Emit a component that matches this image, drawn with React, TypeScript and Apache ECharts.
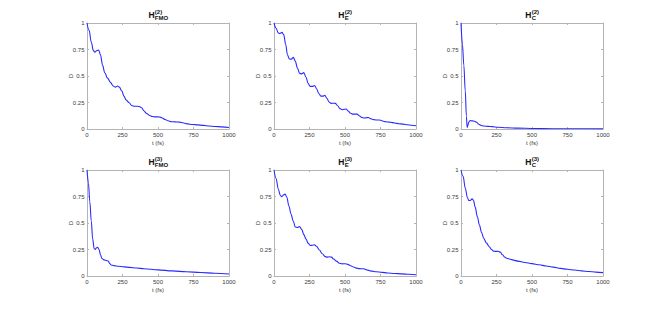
import React, { useEffect, useRef } from "react";
import * as echarts from "echarts";

// ---- data (t in fs, D) ----
const fmo2T = [0, 15, 30, 45, 55, 70, 82, 95, 110, 125, 145, 165, 185, 200, 215, 228, 245, 260, 275, 295, 315, 335, 355, 372, 385, 400, 420, 440, 460, 480, 500, 515, 530, 550, 570, 595, 620, 650, 680, 710, 740, 780, 820, 860, 900, 950, 1000];
const fmo2D = [1, 0.93, 0.82, 0.74, 0.725, 0.74, 0.745, 0.7, 0.6, 0.53, 0.48, 0.44, 0.405, 0.395, 0.405, 0.395, 0.36, 0.31, 0.275, 0.25, 0.222, 0.214, 0.214, 0.21, 0.2, 0.172, 0.146, 0.128, 0.118, 0.114, 0.114, 0.112, 0.104, 0.09, 0.078, 0.069, 0.067, 0.065, 0.057, 0.048, 0.043, 0.039, 0.034, 0.028, 0.024, 0.02, 0.014];

const e2T = [0, 15, 30, 42, 56, 68, 82, 95, 108, 120, 136, 150, 165, 180, 195, 210, 225, 240, 255, 270, 286, 300, 315, 330, 345, 358, 372, 388, 402, 418, 432, 448, 465, 480, 495, 508, 522, 540, 555, 570, 585, 600, 618, 635, 650, 665, 680, 700, 720, 740, 760, 780, 800, 820, 850, 880, 910, 940, 970, 1000];
const e2D = [1, 0.95, 0.905, 0.9, 0.912, 0.89, 0.8, 0.7, 0.66, 0.658, 0.676, 0.64, 0.575, 0.525, 0.52, 0.532, 0.49, 0.43, 0.402, 0.402, 0.41, 0.38, 0.335, 0.31, 0.31, 0.318, 0.29, 0.255, 0.242, 0.243, 0.242, 0.22, 0.192, 0.182, 0.186, 0.188, 0.17, 0.148, 0.14, 0.14, 0.14, 0.125, 0.11, 0.104, 0.106, 0.108, 0.098, 0.088, 0.085, 0.085, 0.078, 0.07, 0.066, 0.064, 0.056, 0.05, 0.046, 0.04, 0.035, 0.03];

const c2T = [0, 10, 20, 30, 38, 43, 48, 55, 65, 80, 95, 110, 125, 140, 160, 190, 220, 260, 320, 400, 500, 650, 800, 1000];
const c2D = [1, 0.8, 0.6, 0.36, 0.12, 0.015, 0.03, 0.065, 0.08, 0.077, 0.073, 0.064, 0.045, 0.035, 0.028, 0.025, 0.022, 0.016, 0.012, 0.008, 0.005, 0.003, 0.002, 0.001];

const fmo3T = [0, 10, 20, 30, 40, 50, 58, 66, 75, 85, 95, 105, 120, 140, 150, 160, 170, 190, 220, 260, 300, 350, 400, 500, 600, 700, 800, 900, 1000];
const fmo3D = [1, 0.88, 0.7, 0.52, 0.35, 0.26, 0.25, 0.265, 0.27, 0.25, 0.2, 0.165, 0.152, 0.145, 0.14, 0.118, 0.104, 0.098, 0.092, 0.086, 0.081, 0.075, 0.069, 0.058, 0.048, 0.04, 0.033, 0.026, 0.019];

const e3T = [0, 15, 30, 45, 55, 68, 78, 90, 105, 120, 135, 150, 165, 180, 195, 210, 225, 240, 255, 270, 285, 300, 320, 340, 360, 375, 390, 405, 420, 440, 460, 480, 500, 520, 540, 560, 580, 600, 630, 660, 690, 720, 760, 800, 850, 900, 950, 1000];
const e3D = [1, 0.92, 0.82, 0.76, 0.748, 0.765, 0.772, 0.745, 0.66, 0.585, 0.52, 0.462, 0.458, 0.466, 0.44, 0.39, 0.35, 0.31, 0.288, 0.29, 0.295, 0.28, 0.245, 0.21, 0.183, 0.178, 0.181, 0.178, 0.16, 0.14, 0.12, 0.114, 0.116, 0.11, 0.097, 0.085, 0.074, 0.07, 0.068, 0.055, 0.046, 0.04, 0.034, 0.029, 0.024, 0.02, 0.016, 0.012];

const c3T = [0, 15, 30, 45, 55, 65, 78, 88, 100, 115, 130, 145, 160, 180, 200, 215, 230, 245, 262, 277, 292, 308, 320, 340, 370, 400, 450, 500, 550, 600, 650, 700, 750, 800, 850, 900, 950, 1000];
const c3D = [1, 0.94, 0.83, 0.74, 0.712, 0.712, 0.728, 0.715, 0.65, 0.56, 0.48, 0.41, 0.355, 0.31, 0.275, 0.25, 0.235, 0.232, 0.233, 0.225, 0.2, 0.178, 0.168, 0.16, 0.15, 0.14, 0.128, 0.117, 0.106, 0.094, 0.084, 0.072, 0.063, 0.056, 0.048, 0.042, 0.037, 0.032];

const titleSups = ["(2)", "(2)", "(2)", "(3)", "(3)", "(3)"];
const titleSubs = ["FMO", "E", "C", "FMO", "E", "C"];
const seriesT = [fmo2T, e2T, c2T, fmo3T, e3T, c3T];
const seriesD = [fmo2D, e2D, c2D, fmo3D, e3D, c3D];

const xLabel = "t (fs)";
const yLabel = "D";

// ---- layout ----
const LEFTS = [87, 274, 461];
const TOPS = [23, 170];
const W = 142;
const H = 106;
const FONT = '"Liberation Sans", Arial, Helvetica, sans-serif';
const FRAME = "#b4b4b4";
const TXT = "#3a3a3a";

export default function App() {
  const ref = useRef<HTMLDivElement>(null);
  useEffect(() => {
    if (!ref.current) return;
    const chart = echarts.init(ref.current, undefined, { renderer: "svg" });
    const grid: any[] = [];
    const xAxis: any[] = [];
    const yAxis: any[] = [];
    const series: any[] = [];
    const graphic: any[] = [];
    const fmt = (v: number) => String(v);
    for (let i = 0; i < 6; i++) {
      const left = LEFTS[i % 3];
      const top = TOPS[Math.floor(i / 3)];
      grid.push({ left, top, width: W, height: H, show: false });
      const line = { show: true, onZero: false, lineStyle: { color: FRAME, width: 1 } };
      const tick = { show: true, inside: true, length: 2, lineStyle: { color: FRAME, width: 1 } };
      xAxis.push({
        type: "value", gridIndex: i, min: 0, max: 1000, interval: 250, position: "bottom",
        axisLine: line, axisTick: tick, splitLine: { show: false },
        axisLabel: { fontSize: 6, color: TXT, margin: 2.5, fontFamily: FONT, formatter: fmt },
        name: xLabel, nameLocation: "middle", nameGap: 11, nameMoveOverlap: false,
        nameTextStyle: { fontSize: 6, color: TXT, fontFamily: FONT },
      });
      xAxis.push({
        type: "value", gridIndex: i, min: 0, max: 1000, interval: 250, position: "top",
        axisLine: line, axisTick: tick, splitLine: { show: false }, axisLabel: { show: false },
      });
      yAxis.push({
        type: "value", gridIndex: i, min: 0, max: 1, interval: 0.25, position: "left",
        axisLine: line, axisTick: tick, splitLine: { show: false },
        axisLabel: { fontSize: 6, color: TXT, margin: 2.5, fontFamily: FONT, formatter: fmt },
        name: yLabel, nameLocation: "middle", nameGap: 13, nameMoveOverlap: false,
        nameTextStyle: { fontSize: 6, color: TXT, fontFamily: FONT },
      });
      yAxis.push({
        type: "value", gridIndex: i, min: 0, max: 1, interval: 0.25, position: "right",
        axisLine: line, axisTick: tick, splitLine: { show: false }, axisLabel: { show: false },
      });
      const t = seriesT[i];
      const d = seriesD[i];
      series.push({
        type: "line", xAxisIndex: 2 * i, yAxisIndex: 2 * i,
        data: t.map((x, k) => [x, d[k]]),
        showSymbol: false, smooth: 0.35, smoothMonotone: "x",
        lineStyle: { color: "#2a2aff", width: 1.1 },
      });
      // title: H with stacked superscript and subscript
      const hW = 0.722 * 8.5;
      const subW = titleSubs[i].length === 3 ? 13 : 4.3;
      const total = hW + Math.max(subW, 7.2);
      const cx = left + W / 2;
      const x0 = cx - total / 2;
      graphic.push({
        type: "text", x: x0, y: top - 8.5,
        style: { text: "H", fontSize: 8.5, fontWeight: "bold", fontFamily: FONT, fill: "#111", align: "left", verticalAlign: "middle" },
      });
      graphic.push({
        type: "text", x: x0 + hW + 0.3, y: top - 11.5,
        style: { text: titleSups[i], fontSize: 6, fontWeight: "bold", fontFamily: FONT, fill: "#111", align: "left", verticalAlign: "middle" },
      });
      graphic.push({
        type: "text", x: x0 + hW + 0.3, y: top - 5.5,
        style: { text: titleSubs[i], fontSize: 6, fontWeight: "bold", fontFamily: FONT, fill: "#111", align: "left", verticalAlign: "middle" },
      });
    }
    chart.setOption({
      animation: false,
      backgroundColor: "#ffffff",
      grid, xAxis, yAxis, series, graphic,
    });
    return () => chart.dispose();
  }, []);
  return (
    <div
      ref={ref}
      style={{ position: "fixed", left: 0, top: 0, width: 667, height: 310 }}
    />
  );
}
